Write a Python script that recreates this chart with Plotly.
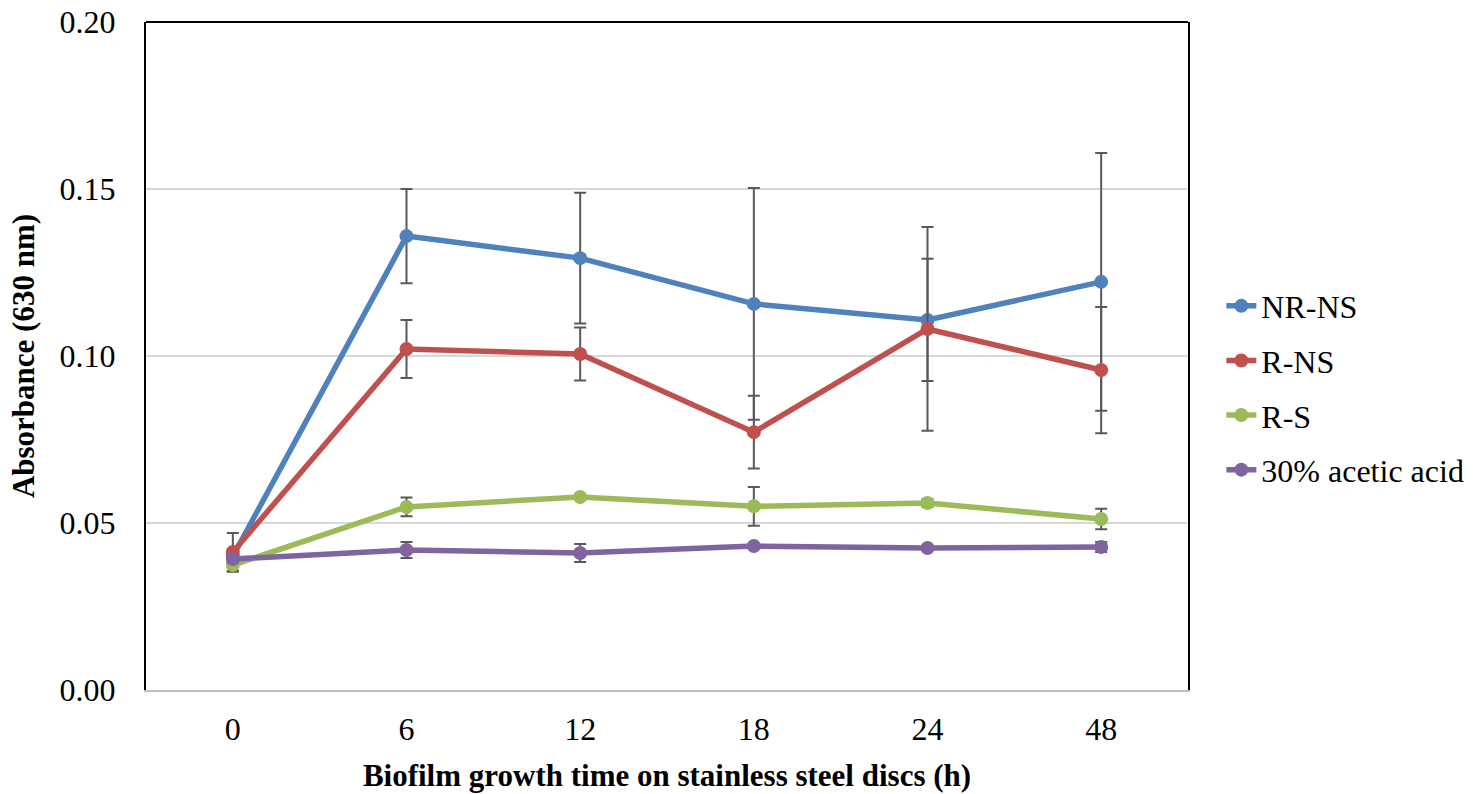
import plotly.graph_objects as go

categories = ["0", "6", "12", "18", "24", "48"]

nr_ns = [0.0400, 0.1359, 0.1293, 0.1156, 0.1108, 0.1222]
nr_ns_err = [0.0020, 0.0141, 0.0196, 0.0347, 0.0183, 0.0386]

r_ns = [0.0413, 0.1021, 0.1006, 0.0772, 0.1081, 0.0958]
r_ns_err = [0.0057, 0.0087, 0.0079, 0.0109, 0.0305, 0.0189]

r_s = [0.0374, 0.0548, 0.0578, 0.0550, 0.0560, 0.0512]
r_s_err = [0.0020, 0.0028, 0.0005, 0.0058, 0.0012, 0.0031]

acetic = [0.0392, 0.0419, 0.0410, 0.0431, 0.0425, 0.0428]
acetic_err = [0.0010, 0.0024, 0.0027, 0.0005, 0.0005, 0.0015]

series = [
    ("NR-NS", nr_ns, nr_ns_err, "#4F81BD"),
    ("R-NS", r_ns, r_ns_err, "#C0504D"),
    ("R-S", r_s, r_s_err, "#9BBB59"),
    ("30% acetic acid", acetic, acetic_err, "#8064A2"),
]

FONT = "Liberation Serif"

fig = go.Figure()
for name, vals, errs, color in series:
    fig.add_trace(go.Scatter(
        x=categories, y=vals, name=name, mode="lines+markers",
        line=dict(color=color, width=5.5),
        marker=dict(color=color, size=14),
        error_y=dict(type="data", array=errs, visible=True,
                     color="#595959", thickness=2, width=6),
        legendgroup=name,
    ))

fig.update_layout(
    width=1473, height=794,
    margin=dict(l=146, r=285, t=22, b=104, autoexpand=False),
    paper_bgcolor="white", plot_bgcolor="white",
    font=dict(family=FONT, size=32, color="black"),
    showlegend=True,
    legend=dict(x=1.032, xanchor="left", y=0.452, yanchor="middle",
                font=dict(family=FONT, size=32, color="black"),
                tracegroupgap=10, bgcolor="rgba(0,0,0,0)"),
    xaxis=dict(type="category", range=[-0.5, 5.5], showgrid=False,
               showline=True, linecolor="#BFBFBF", linewidth=2,
               ticks="", zeroline=False, automargin=False,
               ticklabelstandoff=10,
               tickfont=dict(family=FONT, size=32),
               title=dict(text="<b>Biofilm growth time on stainless steel discs (h)</b>",
                          font=dict(family=FONT, size=31), standoff=18)),
    yaxis=dict(range=[0, 0.2], dtick=0.05, tickformat=".2f",
               showgrid=True, gridcolor="#D9D9D9", gridwidth=2,
               showline=True, linecolor="black", linewidth=2, mirror=True,
               ticks="", zeroline=False, automargin=False,
               ticklabelstandoff=22,
               tickfont=dict(family=FONT, size=32),
               title=dict(text="<b>Absorbance (630 nm)</b>",
                          font=dict(family=FONT, size=31), standoff=16)),
)
fig.add_shape(type="line", xref="paper", yref="paper", x0=0, x1=1, y0=1, y1=1,
              line=dict(color="black", width=2))

fig.write_html("out.html")
